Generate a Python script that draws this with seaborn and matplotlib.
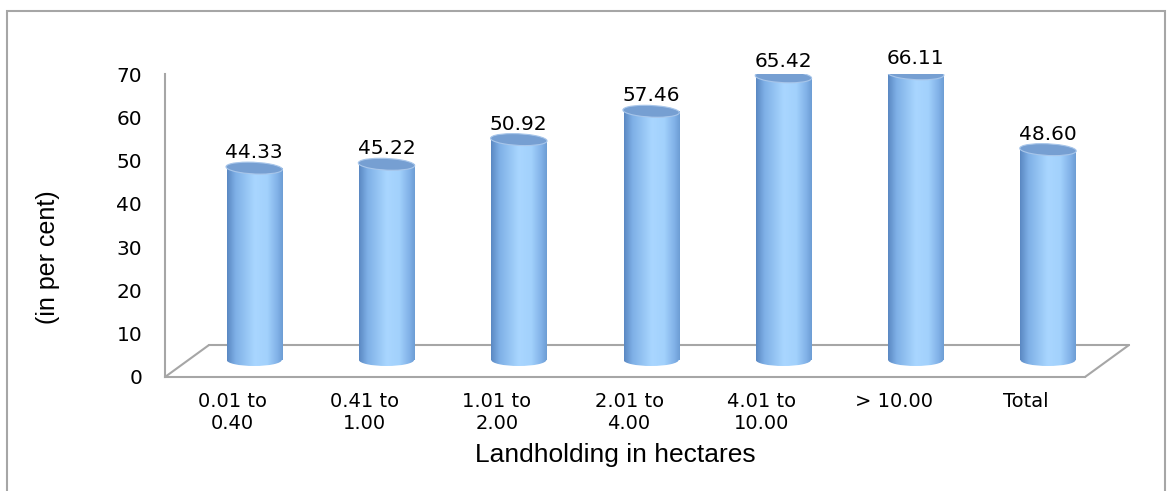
import numpy as np
import pandas as pd
import matplotlib
matplotlib.use('Agg')
import matplotlib.pyplot as plt
import matplotlib.transforms as mtransforms
from matplotlib.patches import Ellipse, Rectangle
from matplotlib.colors import LinearSegmentedColormap
import seaborn as sns

# Chart data
categories = ['0.01 to\n0.40', '0.41 to\n1.00', '1.01 to\n2.00', '2.01 to\n4.00',
              '4.01 to\n10.00', '> 10.00', 'Total']
values = [44.33, 45.22, 50.92, 57.46, 65.42, 66.11, 48.60]
value_labels = ['44.33', '45.22', '50.92', '57.46', '65.42', '66.11', '48.60']
y_ticks = [0, 10, 20, 30, 40, 50, 60, 70]

df = pd.DataFrame({'group': categories, 'share': values})

sns.set_style('white')
plt.rcParams['font.family'] = ['DejaVu Sans']
plt.rcParams['text.color'] = 'black'
plt.rcParams['axes.labelcolor'] = 'black'
plt.rcParams['xtick.color'] = 'black'
plt.rcParams['ytick.color'] = 'black'

fig = plt.figure(figsize=(11.73, 4.91), dpi=100)
ax = fig.add_axes([165 / 1173, 114 / 491, 920 / 1173, 303 / 491])

sns.barplot(data=df, x='group', y='share', color='#9cc9f5', width=0.416,
            linewidth=0, saturation=1, ax=ax, zorder=2)

# cylinders sit half way into the 3d floor, so shift them right and up
shift = ax.transData + mtransforms.ScaledTranslation(22 / 100, 17 / 100, fig.dpi_scale_trans)
cyl = LinearSegmentedColormap.from_list('cyl', [
    (0.0, '#5a88c2'), (0.15, '#7eafe6'), (0.5, '#a9d6ff'),
    (0.72, '#a2d1fc'), (0.9, '#82b2e8'), (1.0, '#6d9dd4')])
grad = np.linspace(0, 1, 256).reshape(1, -1)
cap_h = 2.77

bars = list(ax.patches)
for bar, label in zip(bars, value_labels):
    x0, w, h = bar.get_x(), bar.get_width(), bar.get_height()
    cx = x0 + w / 2
    bar.set_transform(shift)
    im = ax.imshow(grad, extent=[x0, x0 + w, 0, h], aspect='auto', cmap=cyl,
                   transform=shift, zorder=2)
    im.set_clip_path(bar)
    # rounded bottom
    bottom = Ellipse((cx, 0), w, cap_h, transform=shift, facecolor='none',
                     edgecolor='none', zorder=2)
    ax.add_patch(bottom)
    im2 = ax.imshow(grad, extent=[x0, x0 + w, -cap_h, 0], aspect='auto', cmap=cyl,
                    transform=shift, zorder=2)
    im2.set_clip_path(bottom)
    # top cap
    ax.add_patch(Ellipse((cx, h), w, cap_h, angle=2, transform=shift, facecolor='#769fd2',
                         edgecolor='#a8c6ea', lw=0.8, zorder=4))
    ax.text(cx, h, label, fontsize=14.5, ha='center', va='baseline',
            transform=ax.transData + mtransforms.ScaledTranslation(22 / 100, 27 / 100, fig.dpi_scale_trans))

ax.set_xlim(-0.508, 6.446)
ax.set_ylim(0, 70)
ax.set_yticks(y_ticks)
ax.set_xticks(range(len(categories)))
ax.set_xticklabels(categories, linespacing=1.2)
ax.tick_params(axis='y', length=0, pad=16.5, labelsize=14.5)
ax.tick_params(axis='x', length=0, pad=11, labelsize=14)

ax.set_xlabel('Landholding in hectares', family='Liberation Sans', fontsize=19)
ax.xaxis.set_label_coords(0.489, -0.218)
ax.set_ylabel('(in per cent)', family='Liberation Sans', fontsize=18, va='center')
ax.yaxis.set_label_coords(-0.127, 0.396)

for side in ['top', 'right']:
    ax.spines[side].set_visible(False)
for side in ['left', 'bottom']:
    ax.spines[side].set_color('#a6a6a6')
    ax.spines[side].set_linewidth(1.5)

# 3d floor outline
dx, dy = 44 / 920, 32 / 303
floor = dict(transform=ax.transAxes, color='#a6a6a6', lw=1.5, clip_on=False, zorder=1)
ax.plot([0, dx], [0, dy], **floor)
ax.plot([dx, 1 + dx], [dy, dy], **floor)
ax.plot([1, 1 + dx], [0, dy], **floor)

# outer frame
fig.add_artist(Rectangle((7 / 1173, -0.05), 1158 / 1173, 480 / 491 + 0.05,
                         transform=fig.transFigure, fill=False,
                         edgecolor='#a6a6a6', lw=1.5))

plt.savefig('out.png', dpi=100)
